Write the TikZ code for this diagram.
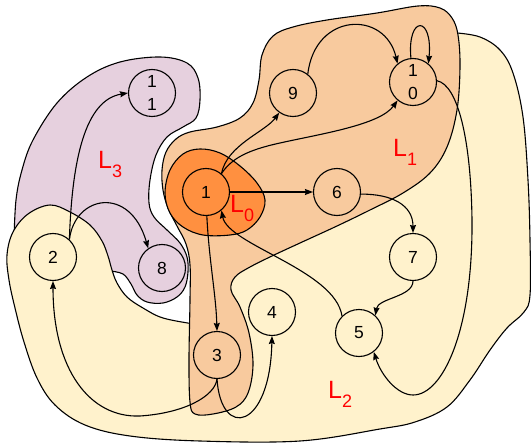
\documentclass[tikz,border=0pt]{standalone}
\usepackage{fontspec}
\setmainfont{Liberation Sans}
\usetikzlibrary{arrows.meta}
\definecolor{cPink}{HTML}{E6D0DE}
\definecolor{cYel}{HTML}{FFF2CC}
\definecolor{cTan}{HTML}{F8CA9E}
\definecolor{cOra}{HTML}{FF9040}
\begin{document}
\begin{tikzpicture}[x=1pt,y=-1pt,
  st/.style={circle,draw,line width=1.1pt,minimum size=47pt,inner sep=0pt,align=center,font=\fontsize{17.5}{22.5}\selectfont},
  reg/.style={draw,line width=1.1pt},
  edge/.style={line width=1.1pt,-{Stealth[length=8pt,width=6pt,inset=1pt]}},
  lbl/.style={text=red,inner sep=0pt,anchor=base west}]
\useasboundingbox (0,0) rectangle (531,444);
% L3 pink
\filldraw[reg,fill=cPink] plot[smooth,tension=0.6] coordinates {(14,240) (16,200) (22,170) (33,140) (57,103) (87,77) (120,62) (160,57) (187,63) (198,78) (200,100) (196,118) (183,127) (167,137) (156,155) (150,180) (149,203) (154,217) (167,230) (180,243) (187,257) (188,272) (185,287) (177,297) (163,303) (147,302) (137,295) (131,284) (123,274) (110,271)} -- (80,262) -- (40,250) -- cycle;
% L2 yellow
\filldraw[reg,fill=cYel] plot[smooth,tension=0.6] coordinates {(194,324) (163,318) (143,308) (127,297) (117,283) (112,270) (108,256) (102,241) (90,225) (70,212) (50,205) (28,214) (13,232) (7,255) (9,280) (15,308) (24,342) (37,378) (55,405) (85,425) (130,436) (200,441) (300,441) (380,429) (415,422) (447,407) (470,380) (490,350) (507,328) (524,312) (530,295) (530,240) (528,180) (523,117) (513,73) (500,50) (480,37) (457,33)} -- (445,75) -- (420,145) -- (380,182) -- (320,212) -- (260,242) -- (215,278) -- (198,310) -- cycle;
% L1 tan
\filldraw[reg,fill=cTan] plot[smooth cycle,tension=0.6] coordinates {(190,132) (217,127) (240,118) (253,103) (259,80) (262,55) (273,36) (293,27) (327,20) (377,13) (418,6) (440,8) (452,18) (458,35) (460,67) (457,110) (447,147) (430,173) (403,193) (370,210) (337,226) (300,243) (272,256) (250,267) (235,277) (231,290) (240,307) (249,333) (253,365) (248,393) (236,407) (213,414) (195,414) (190,402) (189,360) (190,300) (190,265) (186,244) (177,226) (168,208) (163,190) (162,170) (166,152) (176,139)};
% L0 orange
\filldraw[reg,fill=cOra] plot[smooth cycle,tension=0.6] coordinates {(170,170) (183,154) (200,149) (220,153) (240,166) (257,183) (265,200) (260,217) (247,230) (230,235) (203,235) (183,227) (170,213) (165,193)};
% nodes
\node[st] (n1) at (206,192) {1};
\node[st] (n2) at (53,257) {2};
\node[st] (n3) at (217,355) {3};
\node[st] (n4) at (272,312) {4};
\node[st] (n5) at (359,333) {5};
\node[st] (n6) at (337,192) {6};
\node[st] (n7) at (413,257) {7};
\node[st] (n8) at (162,268) {8};
\node[st] (n9) at (293,93) {9};
\node[st] (n10) at (413,82) {1\\0};
\node[st] (n11) at (152,93) {1\\1};
% edges
\draw[edge] (n1.east) -- (n6.west);
\draw[edge] (n1.50) .. controls (227,145) and (265,132) .. (n9.235);
\draw[edge] (n1.50) .. controls (232,158) and (248,150) .. (280,143) .. controls (320,134) and (380,125) .. (n10.230);
\draw[edge] (n9.52) .. controls (315,12) and (385,10) .. (n10.130);
\draw[edge] (n10.95) .. controls (407,15) and (433,15) .. (n10.50);
\draw[edge] (n10.3) .. controls (458,85) and (471,140) .. (472,220) .. controls (473,330) and (443,395) .. (413,395) .. controls (397,395) and (381,375) .. (n5.-52);
\draw[edge] (n6.-5) .. controls (392,194) and (413,205) .. (n7.north);
\draw[edge] (n7.south) .. controls (413,297) and (378,298) .. (n5.47);
\draw[edge] (n5.135) .. controls (335,270) and (228,245) .. (n1.-50);
\draw[edge] (n1.-88) .. controls (209,260) and (216,295) .. (n3.north);
\draw[edge] (n3.-90) .. controls (215,396) and (185,413) .. (140,416) .. controls (90,418) and (53,370) .. (n2.south);
\draw[edge] (n3.-90) .. controls (221,440) and (270,430) .. (n4.south);
\draw[edge] (n2.47) .. controls (72,160) and (85,100) .. (n11.west);
\draw[edge] (n2.47) .. controls (75,195) and (130,185) .. (n8.125);
% labels
\node[lbl] (l0) at (230,212) {\fontsize{25}{25}\selectfont L\raisebox{-9pt}{\fontsize{18}{18}\selectfont 0}};
\node[lbl] (l1) at (393,157) {\fontsize{25}{25}\selectfont L\raisebox{-9pt}{\fontsize{18}{18}\selectfont 1}};
\node[lbl] (l2) at (328,398) {\fontsize{25}{25}\selectfont L\raisebox{-9pt}{\fontsize{18}{18}\selectfont 2}};
\node[lbl] (l3) at (98,168) {\fontsize{25}{25}\selectfont L\raisebox{-9pt}{\fontsize{18}{18}\selectfont 3}};
\end{tikzpicture}
\end{document}
